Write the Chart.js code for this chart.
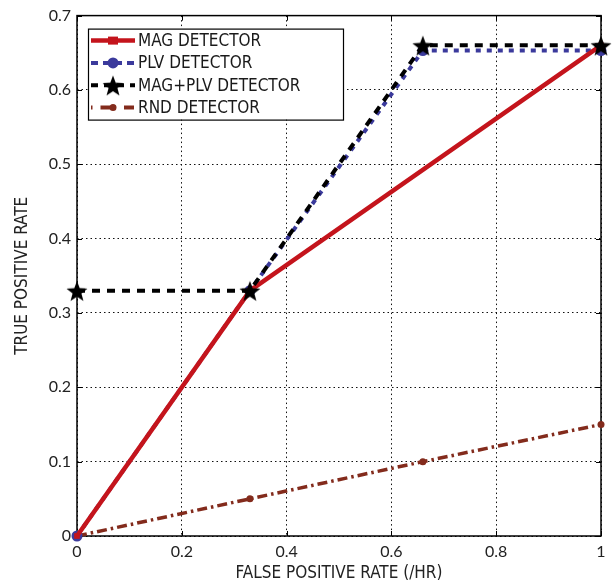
<!DOCTYPE html>
<html>
<head>
<meta charset="utf-8">
<script src="https://cdn.jsdelivr.net/npm/chart.js@4.4.0/dist/chart.umd.min.js"></script>
<style>
  html, body { margin: 0; padding: 0; background: #fff; }
  #wrap { width: 616px; height: 584px; }
</style>
</head>
<body>
<div id="wrap"><canvas id="rocChart"></canvas></div>
<script>
// ROC points per detector
const fprMag  = [0, 0.33, 1];
const tprMag  = [0, 0.33, 0.66];
const fprPlv  = [0, 0.33, 0.66, 1];
const tprPlv  = [0, 0.33, 0.653, 0.653];
const fprBoth = [0, 0.33, 0.66, 1];
const tprBoth = [0.33, 0.33, 0.66, 0.66];
const fprRnd  = [0, 0.33, 0.66, 1];
const tprRnd  = [0, 0.05, 0.1, 0.15];

const xTicks = [0, 0.2, 0.4, 0.6, 0.8, 1];
const yTicks = [0, 0.1, 0.2, 0.3, 0.4, 0.5, 0.6, 0.7];

const seriesNames = ['MAG DETECTOR', 'PLV DETECTOR', 'MAG+PLV DETECTOR', 'RND DETECTOR'];

const NARROW = '"Liberation Sans Narrow", "DejaVu Sans Condensed", sans-serif';
const DIGITS = 'Lato';
const GRID_DASH = [1.5, 3];

function toPoints(xs, ys) {
    return xs.map((x, i) => ({ x: x, y: ys[i] }));
}

// filled five-point star used as a marker
function starImage(size, color) {
    const c = document.createElement('canvas');
    c.width = c.height = size;
    const g = c.getContext('2d');
    const cx = size / 2, cy = size / 2 + size * 0.06;
    const R = size / 2, r = R * 0.42;
    g.fillStyle = color;
    g.beginPath();
    for (let i = 0; i < 10; i++) {
        const a = -Math.PI / 2 + i * Math.PI / 5;
        const rad = i % 2 ? r : R;
        g.lineTo(cx + rad * Math.cos(a), cy + rad * Math.sin(a));
    }
    g.closePath();
    g.fill();
    return c;
}
const star = starImage(22, '#000');

// axes box with inward tick marks
const framePlugin = {
    id: 'frame',
    beforeDatasetsDraw(chart) {
        const { ctx, chartArea: a, scales } = chart;
        ctx.save();
        ctx.strokeStyle = '#000';
        ctx.lineWidth = 1.5;
        ctx.strokeRect(a.left, a.top, a.right - a.left, a.bottom - a.top);
        ctx.lineWidth = 1;
        ctx.beginPath();
        xTicks.forEach(v => {
            const px = Math.round(scales.x.getPixelForValue(v)) + 0.5;
            ctx.moveTo(px, a.bottom); ctx.lineTo(px, a.bottom - 5);
            ctx.moveTo(px, a.top); ctx.lineTo(px, a.top + 5);
        });
        yTicks.forEach(v => {
            const py = Math.round(scales.y.getPixelForValue(v)) + 0.5;
            ctx.moveTo(a.left, py); ctx.lineTo(a.left + 5, py);
            ctx.moveTo(a.right, py); ctx.lineTo(a.right - 5, py);
        });
        ctx.stroke();
        ctx.restore();
    }
};

// legend box in the upper left corner of the plot
const boxLegend = {
    id: 'boxLegend',
    afterDatasetsDraw(chart) {
        const ctx = chart.ctx;
        const a = chart.chartArea;
        const x0 = a.left + 11, y0 = a.top + 13, w = 255, h = 91, rowH = 22.3;
        ctx.save();
        ctx.fillStyle = '#fff';
        ctx.fillRect(x0, y0, w, h);
        ctx.strokeStyle = '#000';
        ctx.lineWidth = 1.2;
        ctx.strokeRect(x0 + 0.5, y0 + 0.5, w, h);
        chart.data.datasets.forEach((ds, i) => {
            const y = y0 + 12 + i * rowH;
            const lx0 = x0 + 3, lx1 = x0 + 47, mx = (lx0 + lx1) / 2;
            ctx.strokeStyle = ds.borderColor;
            ctx.lineWidth = ds.legendWidth;
            ctx.setLineDash(ds.legendDash || []);
            ctx.beginPath();
            ctx.moveTo(lx0, y); ctx.lineTo(lx1, y);
            ctx.stroke();
            ctx.setLineDash([]);
            ctx.fillStyle = ds.pointBackgroundColor;
            if (ds.pointStyle === 'rect') {
                ctx.fillRect(mx - 5, y - 4, 10, 8);
            } else if (ds.pointStyle === 'circle') {
                ctx.beginPath();
                ctx.arc(mx, y, ds.pointRadius, 0, Math.PI * 2);
                ctx.fill();
            } else {
                ctx.drawImage(ds.pointStyle, mx - ds.pointStyle.width / 2, y - ds.pointStyle.height / 2);
            }
            ctx.fillStyle = '#1a1a1a';
            ctx.font = '17px ' + NARROW;
            ctx.textBaseline = 'middle';
            ctx.fillText(ds.label, x0 + 50, y + 1);
        });
        ctx.restore();
    }
};

const tickFont = { family: DIGITS, size: 16 };
const titleFont = { family: NARROW, size: 17 };

new Chart(document.getElementById('rocChart'), {
    type: 'line',
    data: {
        datasets: [
            {
                label: seriesNames[0],
                data: toPoints(fprMag, tprMag),
                borderColor: '#c4141c',
                borderWidth: 4.5,
                legendWidth: 4.5,
                pointStyle: 'rect',
                pointRadius: 4,
                pointBackgroundColor: '#c4141c',
                pointBorderWidth: 0,
                order: 2
            },
            {
                label: seriesNames[1],
                data: toPoints(fprPlv, tprPlv),
                borderColor: '#3b3a9c',
                borderWidth: 4,
                borderDash: [5, 6],
                legendDash: [7, 5],
                legendWidth: 4,
                pointStyle: 'circle',
                pointRadius: 5.5,
                pointBackgroundColor: '#3b3a9c',
                pointBorderWidth: 0,
                order: 3
            },
            {
                label: seriesNames[2],
                data: toPoints(fprBoth, tprBoth),
                borderColor: '#000',
                borderWidth: 4,
                borderDash: [8, 7],
                legendDash: [7, 6],
                legendWidth: 4,
                pointStyle: star,
                pointRadius: 11,
                pointBackgroundColor: '#000',
                order: 1
            },
            {
                label: seriesNames[3],
                data: toPoints(fprRnd, tprRnd),
                borderColor: '#832b1c',
                borderWidth: 3.5,
                borderDash: [10, 4, 2.5, 4],
                legendDash: [1.5, 8, 10, 4],
                legendWidth: 4,
                pointStyle: 'circle',
                pointRadius: 3.5,
                pointBackgroundColor: '#832b1c',
                pointBorderWidth: 0,
                order: 4
            }
        ]
    },
    options: {
        responsive: true,
        maintainAspectRatio: false,
        animation: false,
        clip: false,
        layout: { padding: { top: 11, right: 9, left: 0, bottom: 0 } },
        elements: { line: { tension: 0, fill: false } },
        plugins: {
            legend: { display: false },
            tooltip: { enabled: false }
        },
        scales: {
            x: {
                type: 'linear',
                min: 0,
                max: 1,
                afterBuildTicks: s => { s.ticks = xTicks.map(v => ({ value: v })); },
                afterFit: s => { s.height = 48; },
                ticks: {
                    font: tickFont,
                    color: '#222',
                    padding: 6,
                    maxRotation: 0,
                    callback: v => String(v)
                },
                grid: {
                    color: '#111',
                    lineWidth: 1,
                    drawTicks: false,
                    borderDash: GRID_DASH
                },
                border: { display: false, dash: GRID_DASH },
                title: {
                    display: true,
                    text: 'FALSE POSITIVE RATE (/HR)',
                    font: titleFont,
                    color: '#222',
                    padding: { top: 2, bottom: 0 }
                }
            },
            y: {
                type: 'linear',
                min: 0,
                max: 0.7,
                afterBuildTicks: s => { s.ticks = yTicks.map(v => ({ value: v })); },
                afterFit: s => { s.width = 77; },
                ticks: {
                    font: tickFont,
                    color: '#222',
                    padding: 6,
                    callback: v => String(v)
                },
                grid: {
                    color: '#111',
                    lineWidth: 1,
                    drawTicks: false,
                    borderDash: GRID_DASH
                },
                border: { display: false, dash: GRID_DASH },
                title: {
                    display: true,
                    text: 'TRUE POSITIVE RATE',
                    font: titleFont,
                    color: '#222',
                    padding: { top: 12, bottom: 0 }
                }
            }
        }
    },
    plugins: [framePlugin, boxLegend]
});
</script>
</body>
</html>
